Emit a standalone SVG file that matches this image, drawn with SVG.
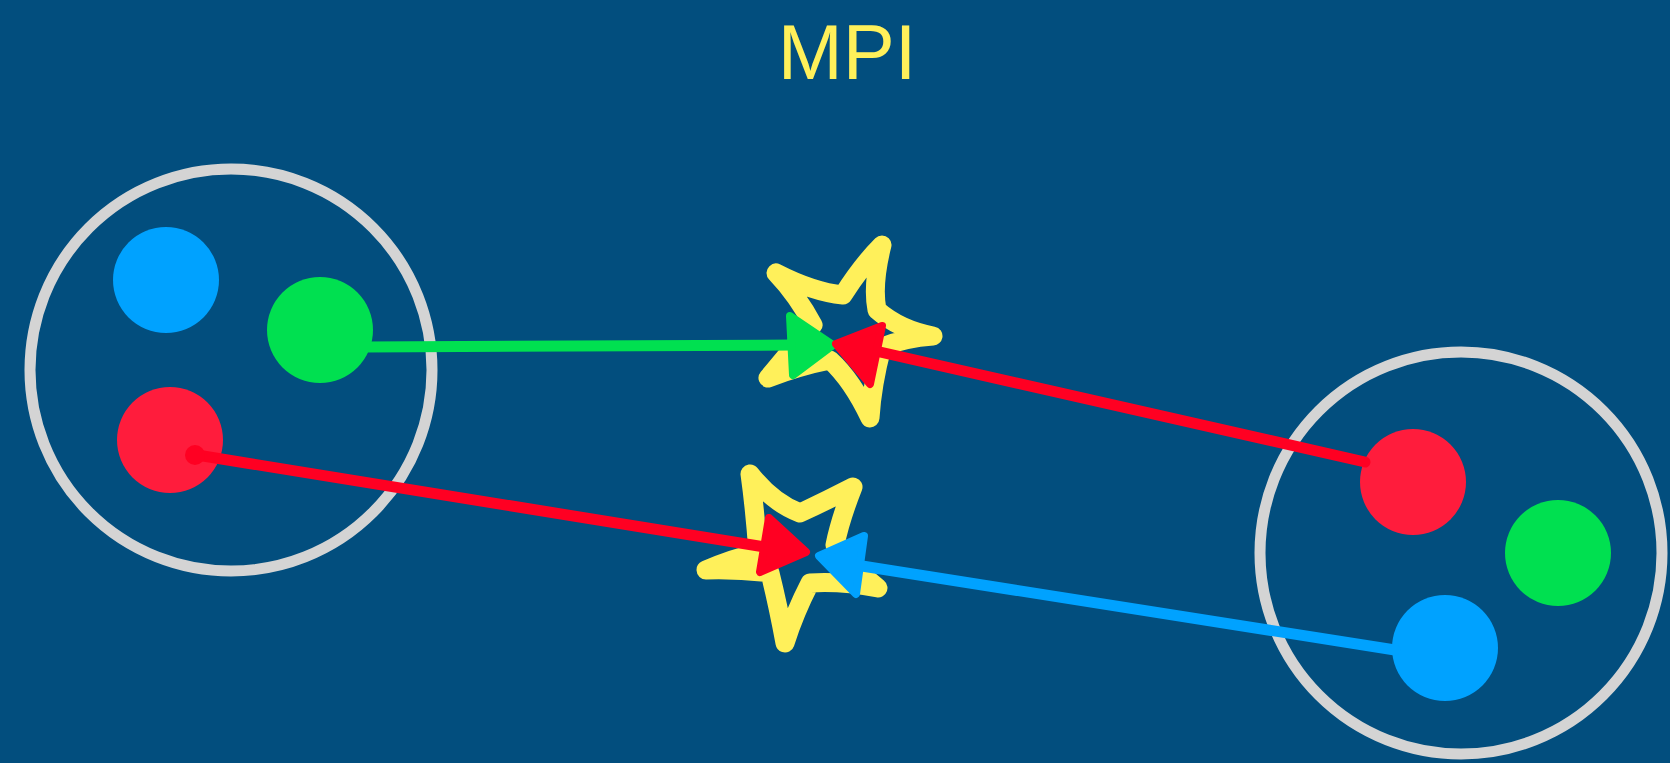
<svg xmlns="http://www.w3.org/2000/svg" width="1670" height="763" viewBox="0 0 1670 763">
<style>
.ring{fill:none;stroke:#d4d4d4;stroke-width:11}
.star{fill:none;stroke:#fff05a;stroke-width:19;stroke-linejoin:round;stroke-linecap:round}
.blue{fill:#00a2ff}
.green{fill:#00e050}
.red{fill:#ff1c3c}
.line{fill:none;stroke-width:11;stroke-linecap:round;stroke-linejoin:round}
.head{stroke-width:8;stroke-linejoin:round}
.title{font-family:"Liberation Sans",Arial,sans-serif;font-size:78px;fill:#fff05a}
</style>
<rect width="1670" height="763" fill="#024e7e"/>
<g id="title"><text class="title" x="847" y="79" text-anchor="middle">MPI</text></g>
<g id="node-left">
<circle class="ring" cx="231" cy="370" r="201"/>
<circle class="blue" cx="166" cy="280" r="53"/>
<circle class="green" cx="320" cy="330" r="53"/>
<circle class="red" cx="170" cy="440" r="53"/>
</g>
<g id="node-right">
<circle class="ring" cx="1461" cy="553" r="201"/>
<circle class="red" cx="1413" cy="482" r="53"/>
<circle class="green" cx="1558" cy="553" r="53"/>
<circle class="blue" cx="1445" cy="648" r="53"/>
</g>
<g id="star-top">
<path class="star" d="M882,245 Q872,285 877,310 Q900,330 933,336 Q905,338 882,347 Q872,385 870,418 Q852,380 830,360 Q800,366 768,378 Q795,345 813,325 Q797,295 776,273 Q813,292 843,295 Q862,265 882,245 Z"/>
</g>
<g id="star-bottom">
<path class="star" d="M750,474 Q773,503 800,513 Q828,500 853,487 Q840,520 835,545 Q855,570 878,588 Q842,581 810,583 Q795,612 785,643 Q778,605 770,573 Q738,569 706,570 Q733,558 758,553 Q755,510 750,474 Z"/>
</g>
<g id="connectors">
<path class="line" stroke="#00e050" d="M365,347 L792,345"/>
<polygon class="head" fill="#00e050" stroke="#00e050" points="790,316 833,345 793,375"/>
<path class="line" stroke="#ff0022" d="M1365,462 L880,352"/>
<polygon class="head" fill="#ff0022" stroke="#ff0022" points="882,326 836,344 870,384"/>
<path class="line" stroke="#ff0022" d="M197,455 L765,547"/>
<circle cx="195" cy="455" r="10" fill="#ff0022"/>
<polygon class="head" fill="#ff0022" stroke="#ff0022" points="769,518 806,552 760,572"/>
<path class="line" stroke="#00a2ff" d="M1395,650 L862,566"/>
<polygon class="head" fill="#00a2ff" stroke="#00a2ff" points="864,536 819,556 856,594"/>
</g>
</svg>
